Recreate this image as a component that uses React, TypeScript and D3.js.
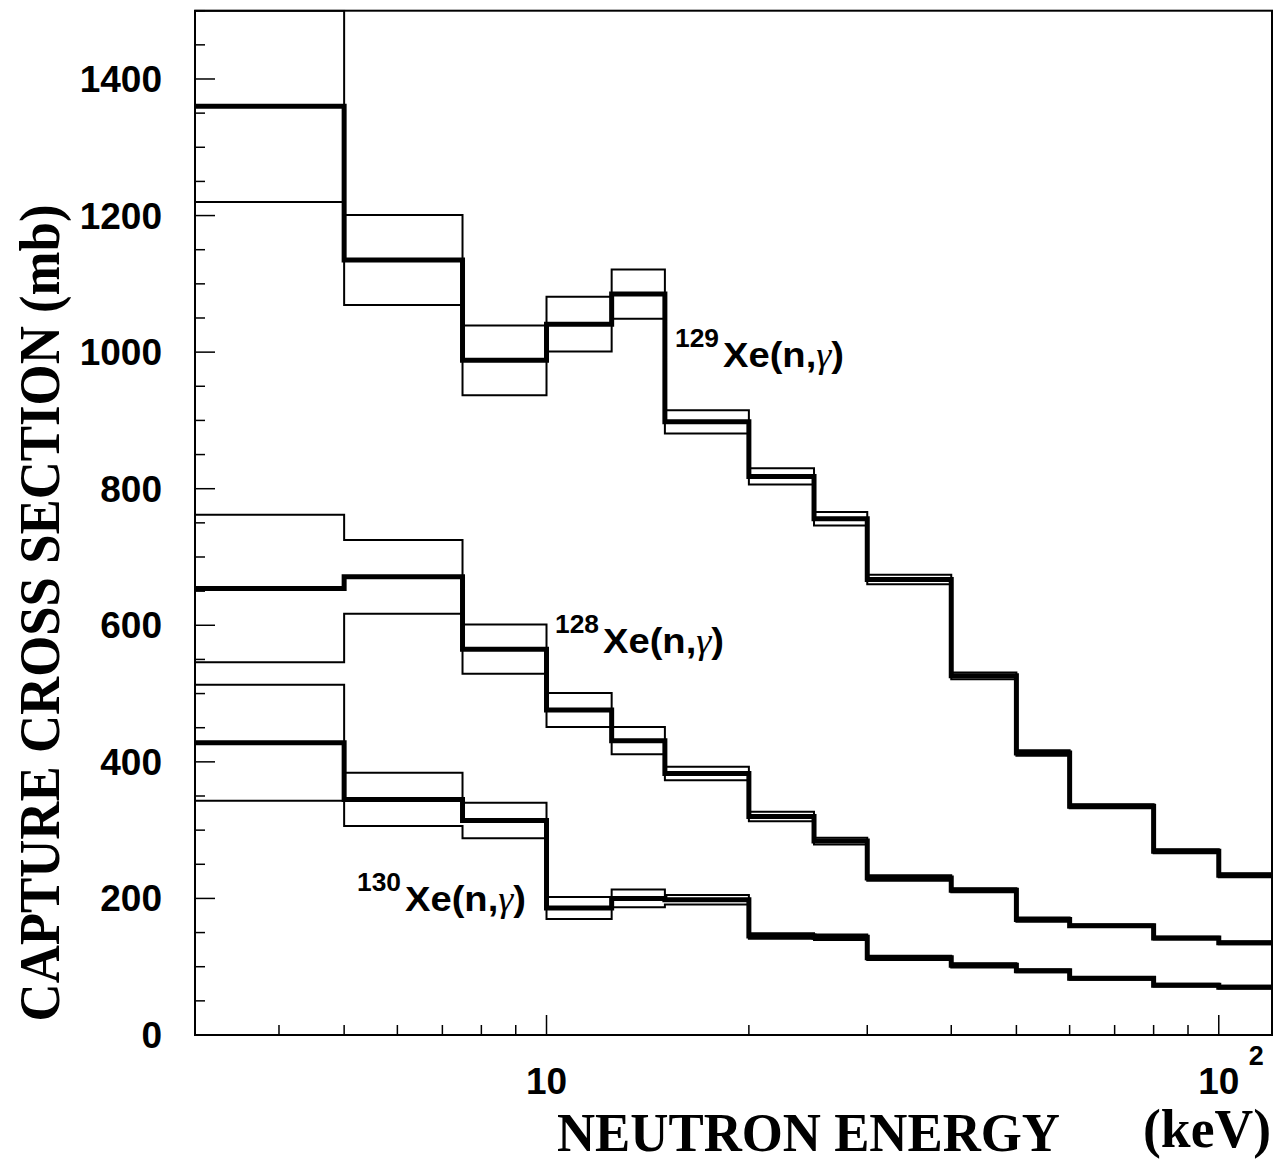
import React, { useEffect } from "react";
import * as d3 from "d3";

// Bin edges (keV) shared by all three histograms
const binEdges = [3, 5, 7.5, 10, 12.5, 15, 20, 25, 30, 40, 50, 60, 80, 100, 120];

// 129Xe(n,gamma) cross sections (mb) and uncertainties
const xe129 = [1360, 1135, 988, 1041, 1085, 898, 818, 756, 667, 526, 413, 335, 269, 234];
const xe129Err = [140, 66, 51, 40, 36, 17, 12, 10, 7, 5, 4, 3, 3, 3];

// 128Xe(n,gamma)
const xe128 = [654, 671, 565, 476, 431, 383, 320, 284, 230, 212, 169, 160, 142, 135];
const xe128Err = [108, 54, 36, 25, 20, 10, 7, 5, 4, 3, 3, 2, 2, 2];

// 130Xe(n,gamma)
const xe130 = [428, 345, 314, 186, 200, 198, 145, 143, 113, 102, 94, 83, 73, 70];
const xe130Err = [85, 39, 26, 16, 13, 7, 4, 4, 3, 3, 2, 2, 2, 2];

const yTickLabels = [0, 200, 400, 600, 800, 1000, 1200, 1400];
const yMinorTicks = d3.range(0, 1501, 50);
const xMinorTicks = [4, 5, 6, 7, 8, 9, 20, 30, 40, 50, 60, 70, 80, 90];
const xMajorTicks = [10, 100];
const isotopes = ["129", "128", "130"];

const SANS = "'Liberation Sans', Arial, Helvetica, sans-serif";
const SERIF = "'Liberation Serif', 'Times New Roman', Times, serif";

export default function App() {
  useEffect(() => {
    document.body.style.margin = "0";
    document.body.style.overflow = "hidden";
  }, []);

  const W = 1275;
  const H = 1162;
  const left = 195, right = 1272, top = 10.7, bottom = 1035;

  const x = d3.scaleLog().domain([3, 120]).range([left, right]);
  const y = d3.scaleLinear().domain([0, 1500]).range([bottom, top]);

  const stepPath = (vals: number[]) => {
    const pts: [number, number][] = [];
    vals.forEach((v, i) => {
      pts.push([binEdges[i], v]);
      pts.push([binEdges[i + 1], v]);
    });
    return d3
      .line<[number, number]>()
      .x((d) => x(d[0]))
      .y((d) => y(d[1]))(pts) as string;
  };

  const series = [
    { v: xe129, e: xe129Err },
    { v: xe128, e: xe128Err },
    { v: xe130, e: xe130Err },
  ];

  // label layout: left x of superscript, baseline of main text
  const labelPos = [
    [675, 367],
    [555, 653],
    [357, 911],
  ];

  return (
    <svg
      width={W}
      height={H}
      style={{ position: "absolute", left: 0, top: 0, display: "block", background: "#fff" }}
    >
      <defs>
        <clipPath id="plotClip">
          <rect x={left} y={top - 1} width={right - left} height={bottom - top + 1} />
        </clipPath>
      </defs>

      {/* histograms */}
      <g clipPath="url(#plotClip)" fill="none" stroke="#000">
        {series.map((s, i) => (
          <g key={i}>
            <path d={stepPath(s.v.map((v, j) => v + s.e[j]))} strokeWidth={2} />
            <path d={stepPath(s.v.map((v, j) => v - s.e[j]))} strokeWidth={2} />
            <path d={stepPath(s.v)} strokeWidth={5} strokeLinejoin="miter" />
          </g>
        ))}
      </g>

      {/* frame */}
      <rect
        x={left}
        y={top}
        width={right - left}
        height={bottom - top}
        fill="none"
        stroke="#000"
        strokeWidth={2}
      />

      {/* y ticks */}
      <g stroke="#000" strokeWidth={1.5}>
        {yMinorTicks.map((t) => (
          <line
            key={t}
            x1={left}
            x2={left + (t % 200 === 0 ? 20 : 10)}
            y1={y(t)}
            y2={y(t)}
          />
        ))}
      </g>
      {/* x ticks */}
      <g stroke="#000" strokeWidth={1.5}>
        {xMinorTicks.map((t) => (
          <line key={t} x1={x(t)} x2={x(t)} y1={bottom} y2={bottom - 10} />
        ))}
        {xMajorTicks.map((t) => (
          <line key={t} x1={x(t)} x2={x(t)} y1={bottom} y2={bottom - 20} />
        ))}
      </g>

      {/* y tick labels */}
      <g fontFamily={SANS} fontWeight="bold" fontSize={37} textAnchor="end" fill="#000">
        {yTickLabels.map((t) => (
          <text key={t} x={162} y={y(t) + 13}>
            {t}
          </text>
        ))}
      </g>

      {/* x tick labels */}
      <g fontFamily={SANS} fontWeight="bold" fill="#000">
        <text x={x(10)} y={1094} fontSize={37} textAnchor="middle">
          10
        </text>
        <text x={x(100)} y={1094} fontSize={37} textAnchor="middle">
          10
        </text>
        <text x={x(100) + 30} y={1065} fontSize={27}>
          2
        </text>
      </g>

      {/* axis titles */}
      <text
        x={557}
        y={1151}
        fontFamily={SERIF}
        fontWeight="bold"
        fontSize={55}
        textLength={503}
        lengthAdjust="spacingAndGlyphs"
      >
        NEUTRON ENERGY
      </text>
      <text
        x={1143}
        y={1147}
        fontFamily={SERIF}
        fontWeight="bold"
        fontSize={54}
        textLength={128}
        lengthAdjust="spacingAndGlyphs"
      >
        (keV)
      </text>
      <text
        transform={`translate(59, 613) rotate(-90)`}
        fontFamily={SERIF}
        fontWeight="bold"
        fontSize={56}
        textAnchor="middle"
        textLength={817}
        lengthAdjust="spacingAndGlyphs"
      >
        CAPTURE CROSS SECTION (mb)
      </text>

      {/* series labels */}
      {isotopes.map((m, i) => {
        const [lx, ly] = labelPos[i];
        return (
          <g key={m} fontFamily={SANS} fontWeight="bold" fill="#000">
            <text x={lx} y={ly - 20} fontSize={25} textLength={44} lengthAdjust="spacingAndGlyphs">
              {m}
            </text>
            <text
              x={lx + 48}
              y={ly}
              fontSize={35}
              textLength={121}
              lengthAdjust="spacingAndGlyphs"
            >
              Xe(n,
              <tspan fontFamily={SERIF} fontStyle="italic" fontWeight="normal">
                γ
              </tspan>
              )
            </text>
          </g>
        );
      })}
    </svg>
  );
}
